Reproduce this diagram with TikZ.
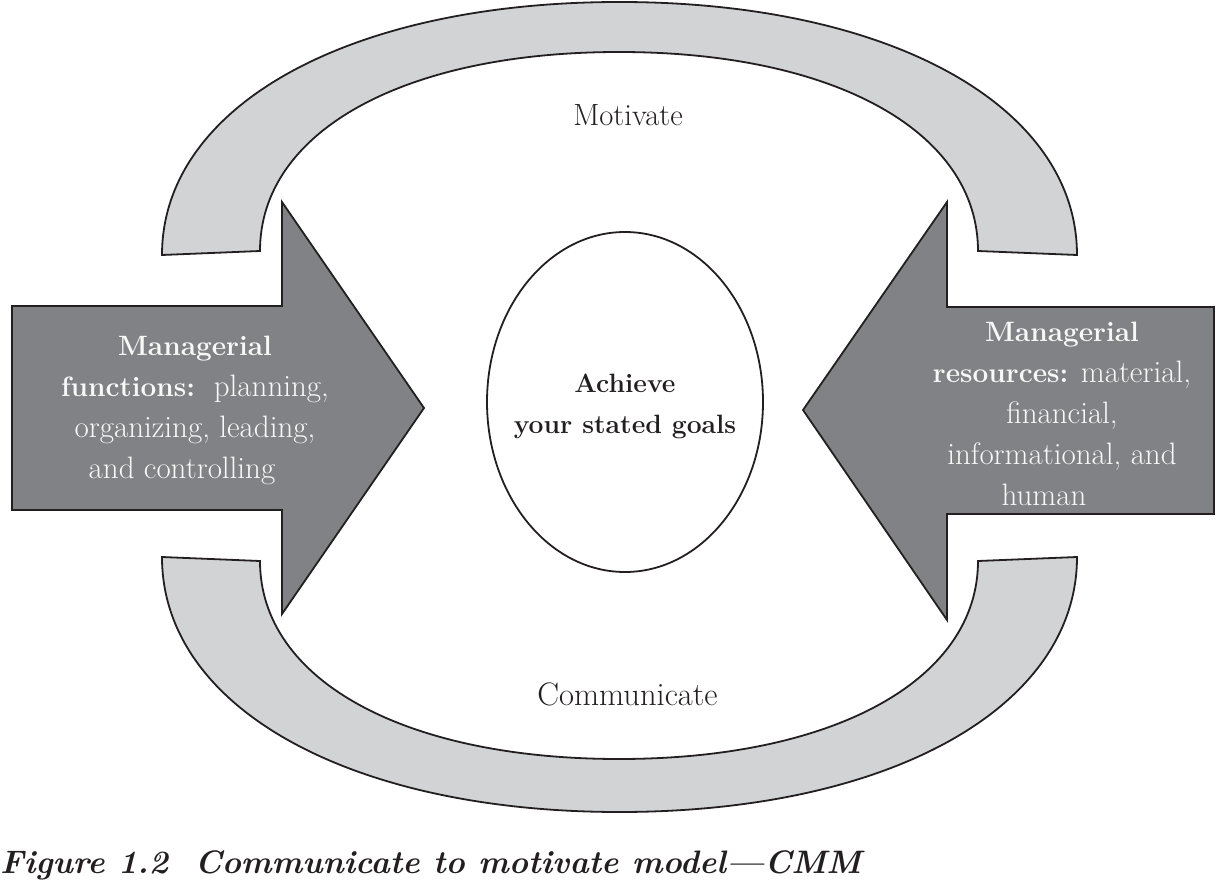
\documentclass[tikz,border=0pt]{standalone}
\usetikzlibrary{shapes.geometric}
\definecolor{bandgray}{RGB}{209,211,212}
\definecolor{arrowgray}{RGB}{128,130,133}
\definecolor{ink}{RGB}{35,31,32}
\definecolor{paper}{RGB}{248,248,248}
\newcommand\regtxt{\fontsize{31}{41}\selectfont}
\newcommand\boldpart[1]{{\fontsize{28}{41}\selectfont\bfseries #1}}
\begin{document}
\begin{tikzpicture}[x=1pt,y=-1pt,
  band/.style={fill=bandgray,draw=ink,line width=1.8pt,line join=miter},
  blockarrow/.style={fill=arrowgray,draw=ink,line width=1.8pt,line join=miter},
  darklabel/.style={text=ink,inner sep=0pt},
  lightlabel/.style={text=paper,inner sep=0pt,align=center,font=\regtxt}]
\useasboundingbox (0,0) rectangle (1216,888);
% upper band (Motivate)
\path[band] (162,255) .. controls (162,105.7) and (349.6,2) .. (619.5,2)
  .. controls (889.4,2) and (1077,105.7) .. (1077,255)
  -- (978,251) .. controls (978,131.6) and (834.4,52) .. (619,52)
  .. controls (403.6,52) and (260,131.6) .. (260,251) -- cycle;
% lower band (Communicate)
\path[band] (162,557) .. controls (162,707.5) and (349.6,812) .. (619.5,812)
  .. controls (889.4,812) and (1077,707.5) .. (1077,557)
  -- (978,561) .. controls (978,679.8) and (834.4,759) .. (619,759)
  .. controls (403.6,759) and (260,679.8) .. (260,561) -- cycle;
% block arrows
\path[blockarrow] (12,306) -- (282,306) -- (282,202) -- (424,408) -- (282,614)
  -- (282,510) -- (12,510) -- cycle;
\path[blockarrow] (1214,307) -- (947,307) -- (947,202) -- (803,410) -- (947,620)
  -- (947,514) -- (1214,514) -- cycle;
% central goal ellipse
\node[ellipse,draw=ink,line width=1.8pt,minimum width=276pt,minimum height=340pt,inner sep=0pt] (goal) at (625,402) {};
\node[darklabel,anchor=base,align=center,font=\fontsize{26.5}{41}\selectfont\bfseries] (goaltext) at (625,433) {Achieve\\your stated goals};
\node[darklabel,anchor=base,font=\fontsize{30.7}{37}\selectfont] (motivate) at (628,126) {Motivate};
\node[darklabel,anchor=base,font=\fontsize{32.5}{37}\selectfont] (communicate) at (627.5,705) {Communicate};
\node[lightlabel,anchor=base] (functions) at (195,478)
  {\boldpart{Managerial}\\\boldpart{functions:}\ \ planning,\\organizing, leading,\\and controlling\kern26pt};
\node[lightlabel,anchor=base] (resources) at (1062,505)
  {\boldpart{Managerial}\\\boldpart{resources:} material,\\financial,\\informational, and\\human\kern36pt};
\node[darklabel,anchor=base west,font=\fontsize{32.5}{37}\selectfont\bfseries\itshape] (caption) at (0,873)
  {Figure 1.2\ \ Communicate to motivate model---CMM};
\end{tikzpicture}
\end{document}
